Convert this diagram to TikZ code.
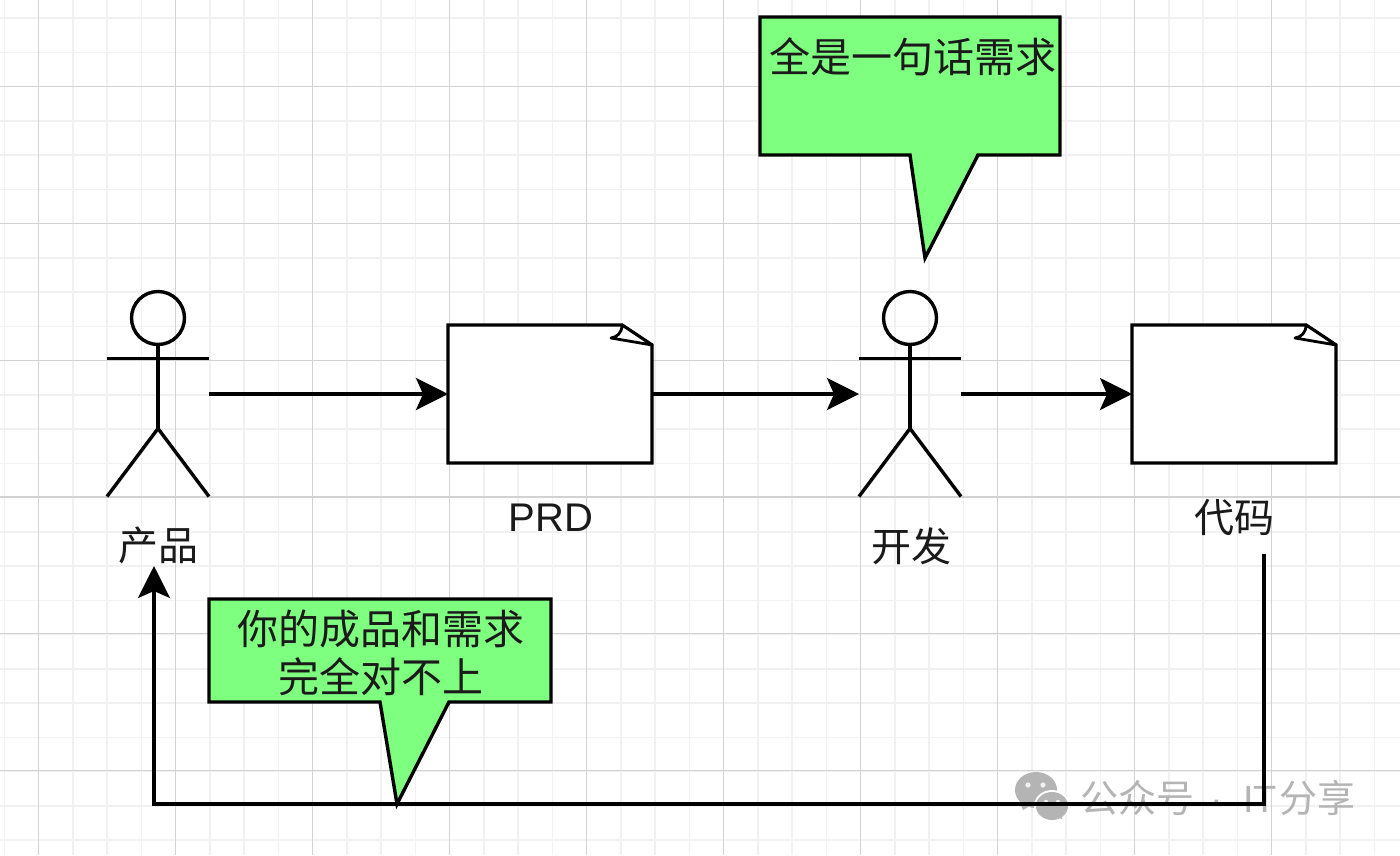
\documentclass[tikz,border=0pt]{standalone}
\usepackage{fontspec}
\setmainfont{Liberation Sans}
\newfontfamily\cjk{Noto Sans CJK SC}
\usetikzlibrary{arrows.meta,calc}
\definecolor{calloutgreen}{HTML}{7FFF7F}
\definecolor{gridmajor}{HTML}{D2D2D2}
\definecolor{gridminor}{HTML}{F1F1F1}
\definecolor{wmgrey}{HTML}{B4B4B4}
\definecolor{softink}{HTML}{1A1A1A}
\tikzset{
  x=1pt,y=-1pt,
  ink/.style={line width=3.4pt,draw=black,line join=miter},
  flow/.style={ink,-{Stealth[length=32pt,width=32pt,inset=7pt]}},
  actorbox/.style={minimum width=102pt,minimum height=205pt,inner sep=0pt,outer sep=0pt},
  docbox/.style={minimum width=204pt,minimum height=138pt,inner sep=0pt,outer sep=0pt},
  label/.style={font=\fontsize{40}{46}\selectfont\cjk,text=softink,inner sep=0pt,align=center},
  latin/.style={font=\fontsize{40}{46}\selectfont,text=softink,inner sep=0pt},
  callouttext/.style={font=\fontsize{41}{48}\selectfont\cjk,text=softink,inner sep=0pt,align=center},
  callout/.style={ink,fill=calloutgreen},
  wm/.style={font=\fontsize{38}{40}\selectfont,text=wmgrey,inner sep=0pt,anchor=base west},
}
\newcommand{\actorfig}[1]{%
  \draw[ink] ($(#1.north)+(0,26.5)$) circle[radius=26.5pt];
  \draw[ink] ($(#1.north)+(0,53)$) -- ($(#1.north)+(0,137)$);
  \draw[ink] ($(#1.north west)+(0,67)$) -- ($(#1.north east)+(0,67)$);
  \draw[ink] ($(#1.south west)$) -- ($(#1.north)+(0,137)$) -- ($(#1.south east)$);
}
\newcommand{\docfig}[1]{%
  \draw[ink,fill=white] (#1.north west) -- ($(#1.north east)+(-30,0)$) -- ($(#1.north east)+(0,20)$) -- (#1.south east) -- (#1.south west) -- cycle;
  \draw[ink,line width=2.8pt,fill=white,line join=round] ($(#1.north east)+(0,20)$) -- ($(#1.north east)+(-41,13)$) .. controls ($(#1.north east)+(-35,12)$) and ($(#1.north east)+(-30,8)$) .. ($(#1.north east)+(-30,0)$) -- cycle;
}
\begin{document}
\begin{tikzpicture}
\useasboundingbox (0,0) rectangle (1400,855);
\fill[white] (0,0) rectangle (1400,855);
% grid
\foreach \i in {0,...,40} {
  \draw[gridminor,line width=1.5pt] ({4.3+34.25*\i},0) -- ({4.3+34.25*\i},855);
  \draw[gridminor,line width=1.5pt] (0,{18+34.25*\i}) -- (1400,{18+34.25*\i});
}
\foreach \i in {0,...,10} {
  \draw[gridmajor,line width=1.1pt] ({38.5+137*\i},0) -- ({38.5+137*\i},855);
  \draw[gridmajor,line width=1.1pt] (0,{86.3+136.9*\i}) -- (1400,{86.3+136.9*\i});
}
% watermark
\node[wm] (wmone) at (1080,812) {\cjk 公众号};
\node[wm] (wmdot) at (1210,812) {·};
\node[wm] (wmit) at (1243,812) {IT};
\node[wm] (wmtwo) at (1279,812) {\cjk 分享};
\fill[wmgrey] (1036,790) ellipse[x radius=21pt,y radius=18pt];
\fill[wmgrey] (1020,803) -- (1030,806) -- (1023,810) -- cycle;
\fill[white] (1052,806) ellipse[x radius=18pt,y radius=16pt];
\fill[wmgrey] (1052,806) ellipse[x radius=16pt,y radius=14pt];
\fill[wmgrey] (1056,816) -- (1062,819) -- (1062,812) -- cycle;
\foreach \p in {(1028,785),(1043,785)} \fill[white!80!wmgrey] \p circle[radius=2.6pt];
\foreach \p in {(1046,802),(1058,802)} \fill[white!80!wmgrey] \p circle[radius=2.2pt];
% shapes
\node[actorbox] (pm) at (158,394) {};
\node[actorbox] (dev) at (910,394) {};
\node[docbox] (prd) at (550,394) {};
\node[docbox] (code) at (1234,394) {};
\actorfig{pm}\actorfig{dev}\docfig{prd}\docfig{code}
\node[label] (pmlabel) at (158,545) {产品};
\node[latin] (prdlabel) at (551,518) {PRD};
\node[label] (devlabel) at (911,546) {开发};
\node[label] (codelabel) at (1234,518) {代码};
% connectors
\draw[flow] (pm.east) -- (prd.west);
\draw[flow] (prd.east) -- (dev.west);
\draw[flow] (dev.east) -- (code.west);
\coordinate (fbstart) at (1264,554);
\coordinate (fbend) at (154,566);
\draw[flow] (fbstart) -- (1264,804) -- (154,804) -- (fbend);
% callouts
\draw[callout] (760,17) -- (1060,17) -- (1060,155) -- (978,155) -- (925,258) -- (910,155) -- (760,155) -- cycle;
\node[callouttext] (need) at (913,57) {全是一句话需求};
\draw[callout] (209,599) -- (551,599) -- (551,702) -- (449,702) -- (397,804) -- (380,702) -- (209,702) -- cycle;
\node[callouttext] (mismatch) at (381,653) {你的成品和需求\\完全对不上};
\end{tikzpicture}
\end{document}
